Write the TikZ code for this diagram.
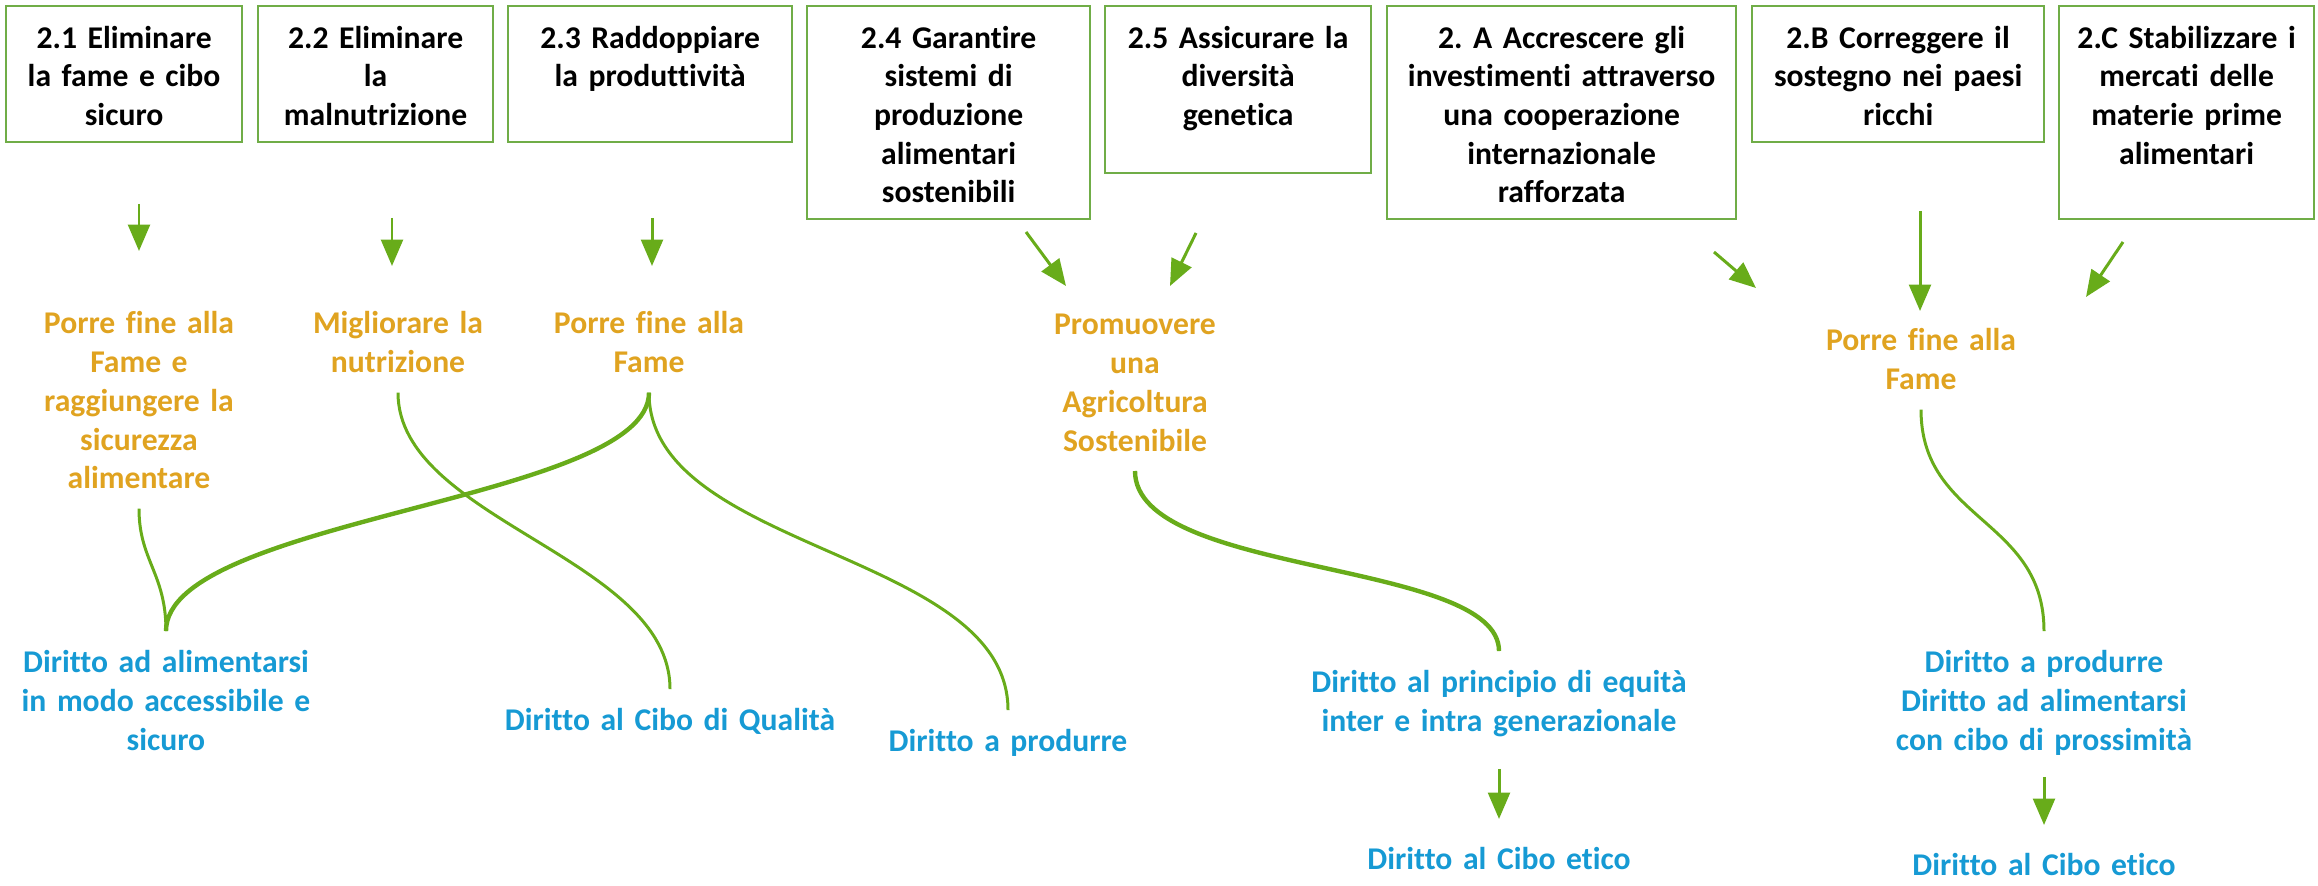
\documentclass[tikz,border=0pt]{standalone}
\usepackage{fontspec}
\setmainfont{Carlito}[Ligatures=NoCommon]
\usetikzlibrary{arrows.meta}
\definecolor{sdggreen}{RGB}{104,172,26}
\definecolor{boxgreen}{RGB}{112,173,71}
\definecolor{sdggold}{RGB}{224,163,32}
\definecolor{sdgblue}{RGB}{22,154,212}

\begin{document}
\begin{tikzpicture}[x=0.01cm,y=-0.01cm,>={Triangle[length=7.5pt,width=6.2pt]},
   every node/.style={font=\bfseries\fontsize{9}{11}\selectfont\frenchspacing},
   traguardo/.style={draw=boxgreen,line width=0.6pt,anchor=north west,align=center,
      inner xsep=0pt,inner ysep=0.12cm,text height=0.3cm},
   obiettivo/.style={text=sdggold,anchor=base,align=center,text width=4cm,inner ysep=0.19cm},
   diritto/.style={text=sdgblue,anchor=base,align=center,text width=4.2cm,inner ysep=0.19cm},
   freccia/.style={->,sdggreen,line width=0.85pt},
   link/.style={sdggreen,line width=0.85pt},
   thicklink/.style={sdggreen,line width=1.25pt}]
   \useasboundingbox (0,0) rectangle (2318,886);

   \node[traguardo,text width=2.36cm,text depth=0.82cm] (t21) at (5,5) {2.1 Eliminare\\la fame e cibo\\sicuro};
   \node[traguardo,text width=2.35cm,text depth=0.82cm] (t22) at (257,5) {2.2 Eliminare\\la\\malnutrizione};
   \node[traguardo,text width=2.84cm,text depth=0.82cm] (t23) at (507,5) {2.3 Raddoppiare\\la produttività};
   \node[traguardo,text width=2.83cm,text depth=1.59cm] (t24) at (806,5) {2.4 Garantire\\sistemi di\\produzione\\alimentari\\sostenibili};
   \node[traguardo,text width=2.66cm,text depth=1.13cm] (t25) at (1104,5) {2.5 Assicurare la\\diversità\\genetica};
   \node[traguardo,text width=3.49cm,text depth=1.59cm] (t2a) at (1386,5) {2. A Accrescere gli\\investimenti attraverso\\una cooperazione\\internazionale\\rafforzata};
   \node[traguardo,text width=2.92cm,text depth=0.82cm] (t2b) at (1751,5) {2.B Correggere il\\sostegno nei paesi\\ricchi};
   \node[traguardo,text width=2.55cm,text depth=1.59cm] (t2c) at (2058,5) {2.C Stabilizzare i\\mercati delle\\materie prime\\alimentari};

   \node[obiettivo] (o1) at (139,334) {Porre fine alla\\Fame e\\raggiungere la\\sicurezza\\alimentare};
   \node[obiettivo] (o2) at (398,334) {Migliorare la\\nutrizione};
   \node[obiettivo] (o3) at (649,334) {Porre fine alla\\Fame};
   \node[obiettivo] (o4) at (1135,335) {Promuovere\\una\\Agricoltura\\Sostenibile};
   \node[obiettivo] (o5) at (1921,351) {Porre fine alla\\Fame};

   \node[diritto] (r1) at (166,673) {Diritto ad alimentarsi\\in modo accessibile e\\sicuro};
   \node[diritto] (r2) at (670,731) {Diritto al Cibo di Qualità};
   \node[diritto] (r3) at (1008,752) {Diritto a produrre};
   \node[diritto] (r4) at (1499,693) {Diritto al principio di equità\\inter e intra generazionale};
   \node[diritto] (r5) at (2044,673) {Diritto a produrre\\Diritto ad alimentarsi\\con cibo di prossimità};
   \node[diritto] (r6) at (1499,870) {Diritto al Cibo etico};
   \node[diritto] (r7) at (2044,876) {Diritto al Cibo etico};

   \coordinate (f1s) at (139,204);  \coordinate (f1e) at (139,251);
   \coordinate (f2s) at (392,218);  \coordinate (f2e) at (392,266);
   \coordinate (f3s) at (652,218);  \coordinate (f3e) at (652,266);
   \coordinate (f4s) at (1026,232); \coordinate (f4e) at (1066,286);
   \coordinate (f5s) at (1196,233); \coordinate (f5e) at (1170,286);
   \coordinate (f6s) at (1714,252); \coordinate (f6e) at (1756,288);
   \coordinate (f7s) at (1920,211); \coordinate (f7e) at (1920,311);
   \coordinate (f8s) at (2123,242); \coordinate (f8e) at (2086,297);
   \coordinate (f9s) at (1499,769); \coordinate (f9e) at (1499,819);
   \coordinate (f10s) at (2044,777); \coordinate (f10e) at (2044,825);

   \draw[freccia] (f1s) -- (f1e);
   \draw[freccia] (f2s) -- (f2e);
   \draw[freccia] (f3s) -- (f3e);
   \draw[freccia] (f4s) -- (f4e);
   \draw[freccia] (f5s) -- (f5e);
   \draw[freccia] (f6s) -- (f6e);
   \draw[freccia] (f7s) -- (f7e);
   \draw[freccia] (f8s) -- (f8e);
   \draw[freccia] (f9s) -- (f9e);
   \draw[freccia] (f10s) -- (f10e);

   \draw[link] (o1.south) .. controls +(0,52) and +(0,-58) .. (r1.north);
   \draw[thicklink] (o3.south) .. controls +(0,108) and +(0,-113) .. (r1.north);
   \draw[link] (o2.south) .. controls +(0,128) and +(0,-132) .. (r2.north);
   \draw[link] (o3.south) .. controls +(0,159) and +(0,-159) .. (r3.north);
   \draw[thicklink] (o4.south) .. controls +(0,106) and +(0,-92) .. (r4.north);
   \draw[link] (o5.south) .. controls +(0,112) and +(0,-113) .. (r5.north);
\end{tikzpicture}
\end{document}
